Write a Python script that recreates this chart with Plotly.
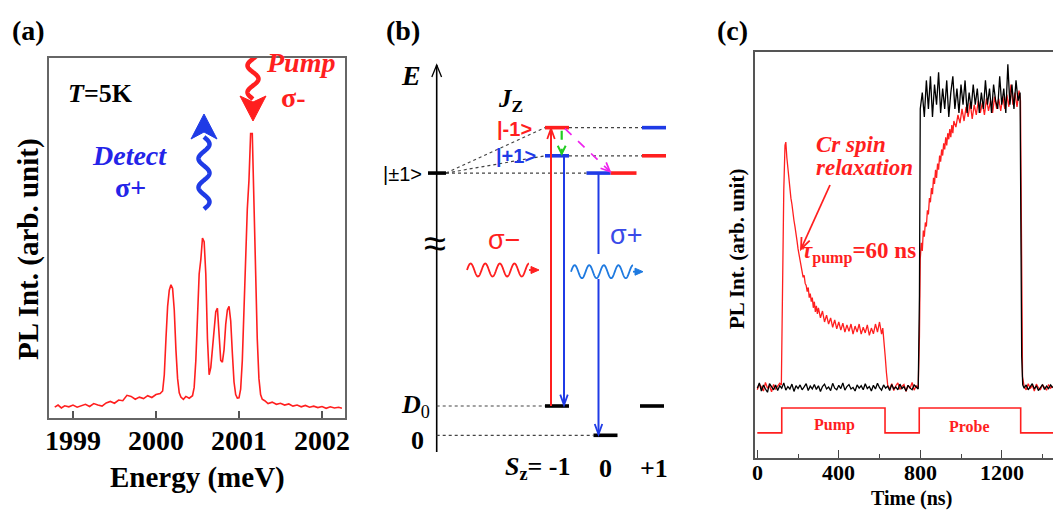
import math
import plotly.graph_objects as go

W, H = 1053, 510
SERIF = "Liberation Serif, Times New Roman, serif"
SANS = "Liberation Sans, Arial, sans-serif"
RED = "#ff1f1f"
BLUE = "#1f3be6"
TXTBLUE = "#2424e8"
LBLUE = "#1f7ae0"
GREEN = "#22cc22"
MAGENTA = "#ee22ee"
AXC = "#555555"

# ======================= (a) PL spectrum =======================
energy_meV = [
    1998.78, 1998.82, 1998.86, 1998.90, 1998.95, 1999.00, 1999.05, 1999.10, 1999.15, 1999.20,
    1999.25, 1999.30, 1999.35, 1999.40, 1999.45, 1999.50, 1999.55, 1999.60, 1999.65, 1999.70,
    1999.75, 1999.80, 1999.85, 1999.90, 1999.95, 2000.00, 2000.05, 2000.08, 2000.10, 2000.12,
    2000.14, 2000.16, 2000.18, 2000.20, 2000.22, 2000.24, 2000.26, 2000.28, 2000.30, 2000.33,
    2000.36, 2000.40, 2000.44, 2000.46, 2000.48, 2000.50, 2000.52, 2000.54, 2000.56, 2000.58,
    2000.60, 2000.62, 2000.64, 2000.66, 2000.68, 2000.70, 2000.72, 2000.74, 2000.76, 2000.78,
    2000.80, 2000.82, 2000.84, 2000.86, 2000.88, 2000.90, 2000.92, 2000.94, 2000.96, 2000.98,
    2001.00, 2001.02, 2001.04, 2001.06, 2001.08, 2001.10, 2001.12, 2001.14, 2001.16, 2001.18,
    2001.20, 2001.22, 2001.24, 2001.26, 2001.28, 2001.31, 2001.35, 2001.40, 2001.45, 2001.50,
    2001.55, 2001.60, 2001.65, 2001.70, 2001.75, 2001.80, 2001.85, 2001.90, 2001.95, 2002.00,
    2002.05, 2002.10, 2002.15, 2002.20, 2002.24]
pl_intensity = [
    0.030, 0.036, 0.028, 0.034, 0.031, 0.036, 0.030, 0.034, 0.038, 0.032,
    0.040, 0.036, 0.033, 0.042, 0.046, 0.041, 0.050, 0.048, 0.063, 0.060,
    0.052, 0.058, 0.054, 0.062, 0.057, 0.065, 0.068, 0.075, 0.12, 0.22,
    0.31, 0.355, 0.37, 0.36, 0.30, 0.19, 0.11, 0.07, 0.058, 0.052,
    0.060, 0.055, 0.062, 0.085, 0.16, 0.28, 0.40, 0.44, 0.50, 0.49,
    0.40, 0.22, 0.12, 0.14, 0.20, 0.26, 0.295, 0.305, 0.24, 0.16,
    0.155, 0.19, 0.26, 0.30, 0.31, 0.27, 0.18, 0.10, 0.065, 0.055,
    0.056, 0.08, 0.16, 0.30, 0.45, 0.58, 0.66, 0.79, 0.79, 0.60,
    0.40, 0.22, 0.11, 0.065, 0.052, 0.048, 0.040, 0.044, 0.038, 0.041,
    0.036, 0.039, 0.033, 0.036, 0.031, 0.035, 0.030, 0.033, 0.029, 0.032,
    0.027, 0.031, 0.028, 0.030, 0.027]
energy_ticks = [1999, 2000, 2001, 2002]

# ======================= (b) level scheme =======================
exc_sz = [-1, -1, 0, 0, 1, 1]            # S_z column of exciton-Cr levels
exc_E = [10.50, 9.54, 8.95, 8.95, 10.50, 9.54]
exc_Jz = [-1, 1, 1, -1, 1, -1]           # J_z = -1 red, +1 blue
gnd_sz = [-1, 0, 1]
gnd_E = [1.0, 0.0, 1.0]                  # D0, 0, D0
zero_field_E = 8.95                      # |+-1> without Cr
sz_ticks = ["-1", "0", "+1"]

# ======================= (c) time traces =======================
time_black = [
    0, 10, 20, 30, 40, 50, 60, 70, 80, 90,
    100, 110, 120, 130, 140, 150, 160, 170, 180, 190,
    200, 210, 220, 230, 240, 250, 260, 270, 280, 290,
    300, 310, 320, 330, 340, 350, 360, 370, 380, 390,
    400, 410, 420, 430, 440, 450, 460, 470, 480, 490,
    500, 510, 520, 530, 540, 550, 560, 570, 580, 590,
    600, 610, 620, 630, 640, 650, 660, 670, 680, 690,
    700, 710, 720, 730, 740, 750, 760, 770, 780, 790,
    796, 800,
    810, 820, 830, 840, 850, 860, 870, 880, 890, 900,
    910, 920, 930, 940, 950, 960, 970, 980, 990, 1000,
    1010, 1020, 1030, 1040, 1050, 1060, 1070, 1080, 1090, 1100,
    1110, 1120, 1130, 1140, 1150, 1160, 1170, 1180, 1190, 1200,
    1210, 1220, 1230, 1240, 1250, 1260, 1270, 1280, 1290,
    1294, 1298, 1303,
    1310, 1320, 1330, 1340, 1350, 1360, 1370, 1380, 1390, 1400,
    1410, 1420, 1430, 1440, 1450]
pl_black = [
    0.172, 0.185, 0.165, 0.180, 0.170, 0.162, 0.183, 0.175, 0.168, 0.180,
    0.166, 0.178, 0.172, 0.185, 0.167, 0.176, 0.170, 0.182, 0.164, 0.178,
    0.171, 0.180, 0.168, 0.175, 0.183, 0.166, 0.177, 0.170, 0.181, 0.169,
    0.178, 0.164, 0.176, 0.182, 0.170, 0.175, 0.166, 0.184, 0.172, 0.168,
    0.179, 0.171, 0.185, 0.167, 0.176, 0.181, 0.170, 0.174, 0.165, 0.180,
    0.172, 0.178, 0.168, 0.183, 0.171, 0.176, 0.165, 0.179, 0.170, 0.184,
    0.173, 0.167, 0.180, 0.172, 0.177, 0.166, 0.181, 0.170, 0.175, 0.168,
    0.182, 0.171, 0.176, 0.165, 0.179, 0.172, 0.168, 0.180, 0.174, 0.170,
    0.40, 0.86,
    0.90, 0.84, 0.93, 0.86, 0.94, 0.84, 0.92, 0.87, 0.95, 0.85,
    0.91, 0.86, 0.93, 0.84, 0.90, 0.94, 0.86, 0.91, 0.85, 0.92,
    0.87, 0.93, 0.85, 0.90, 0.86, 0.92, 0.87, 0.91, 0.85, 0.90,
    0.86, 0.93, 0.87, 0.91, 0.85, 0.92, 0.88, 0.86, 0.94, 0.87,
    0.91, 0.85, 0.97, 0.87, 0.92, 0.86, 0.93, 0.88, 0.90,
    0.60, 0.25, 0.18,
    0.172, 0.180, 0.168, 0.176, 0.183, 0.170, 0.178, 0.166, 0.175, 0.181,
    0.169, 0.177, 0.171, 0.180, 0.173]
time_red = [
    0, 10, 20, 30, 40, 50, 60, 70, 80, 90,
    100, 110, 118, 124, 130, 136, 140, 145, 150, 155,
    160, 165, 170, 175, 180, 185, 190, 195, 200, 205,
    210, 215, 220, 225, 230, 235, 240, 245, 250, 255,
    260, 265, 270, 275, 280, 285, 290, 295, 300, 310,
    320, 330, 340, 350, 360, 370, 380, 390, 400, 410,
    420, 430, 440, 450, 460, 470, 480, 490, 500, 510,
    520, 530, 540, 550, 560, 570, 580, 590, 600, 610,
    616, 622, 628, 634, 640, 650, 660, 670, 680, 690,
    700, 710, 720, 730, 740, 750, 760, 770, 780, 790,
    796, 800, 805, 810, 815, 820, 825, 830, 835, 840,
    845, 850, 855, 860, 865, 870, 875, 880, 885, 890,
    895, 900, 905, 910, 915, 920, 925, 930, 935, 940,
    945, 950, 955, 960, 965, 975, 985, 995, 1005, 1015,
    1025, 1035, 1045, 1055, 1065, 1075, 1085, 1095, 1105, 1115,
    1125, 1135, 1145, 1155, 1165, 1175, 1185, 1195, 1205, 1215,
    1225, 1235, 1245, 1255, 1265, 1275, 1285, 1292, 1297, 1302,
    1310, 1320, 1330, 1340, 1350, 1360, 1370, 1380, 1390, 1400,
    1410, 1420, 1430, 1440, 1450]
pl_red = [
    0.168, 0.182, 0.175, 0.165, 0.186, 0.172, 0.178, 0.163, 0.181, 0.170,
    0.177, 0.184, 0.180, 0.45, 0.66, 0.77, 0.778, 0.74, 0.71, 0.69,
    0.665, 0.64, 0.625, 0.60, 0.585, 0.57, 0.545, 0.535, 0.515, 0.50,
    0.49, 0.47, 0.465, 0.445, 0.45, 0.43, 0.425, 0.41, 0.42, 0.395,
    0.405, 0.385, 0.395, 0.37, 0.385, 0.36, 0.375, 0.355, 0.37, 0.345,
    0.362, 0.335, 0.352, 0.33, 0.345, 0.322, 0.34, 0.318, 0.335, 0.315,
    0.332, 0.31, 0.328, 0.312, 0.33, 0.305, 0.325, 0.31, 0.33, 0.305,
    0.322, 0.308, 0.328, 0.302, 0.32, 0.306, 0.33, 0.31, 0.335, 0.305,
    0.32, 0.29, 0.25, 0.21, 0.18, 0.17, 0.183, 0.166, 0.178, 0.185,
    0.169, 0.176, 0.181, 0.164, 0.179, 0.172, 0.186, 0.167, 0.178, 0.174,
    0.30, 0.49, 0.53, 0.51, 0.56, 0.545, 0.58, 0.57, 0.61, 0.60,
    0.64, 0.63, 0.665, 0.65, 0.69, 0.675, 0.71, 0.69, 0.725, 0.71,
    0.745, 0.73, 0.76, 0.745, 0.775, 0.76, 0.79, 0.77, 0.80, 0.785,
    0.81, 0.79, 0.82, 0.80, 0.83, 0.815, 0.845, 0.825, 0.86, 0.83,
    0.865, 0.84, 0.875, 0.835, 0.87, 0.845, 0.88, 0.85, 0.875, 0.845,
    0.885, 0.855, 0.88, 0.85, 0.89, 0.86, 0.885, 0.855, 0.89, 0.86,
    0.895, 0.865, 0.92, 0.87, 0.90, 0.865, 0.905, 0.88, 0.45, 0.20,
    0.176, 0.168, 0.183, 0.171, 0.179, 0.165, 0.182, 0.173, 0.169, 0.180,
    0.174, 0.167, 0.181, 0.172, 0.177]
pulse_time = [0, 120, 627, 795, 1293, 1460]
pulse_level = [0.062, 0.123, 0.062, 0.123, 0.062, 0.062]
time_ticks = [0, 400, 800, 1200]
time_minor = [200, 600, 1000, 1400]

# ======================= pixel <-> data helpers =======================
def a_x(px): return 1999 + (px - 73) / 83.0
def a_y(py): return (418 - py) / 360.0

SZ_PX0, SZ_STEP = 557.0, 48.5
E_PY0, E_STEP = 435.3, 29.3
def b_x(px): return -1 + (px - SZ_PX0) / SZ_STEP
def b_y(py): return (E_PY0 - py) / E_STEP
def b_px(sz): return SZ_PX0 + (sz + 1) * SZ_STEP
def b_py(e): return E_PY0 - E_STEP * e

def c_x(px): return (px - 757.3) / 0.2037
def c_y(py): return (458 - py) / 406.0

CONV = {"a": (a_x, a_y, "x", "y"), "b": (b_x, b_y, "x2", "y2"), "c": (c_x, c_y, "x3", "y3")}

shapes = []

def add_path(panel, pts, color, width, dash="solid", fill=None):
    cx, cy, xr, yr = CONV[panel]
    p = "M " + " L ".join(f"{cx(x):.5f},{cy(y):.5f}" for x, y in pts)
    if fill:
        p += " Z"
    shapes.append(dict(type="path", path=p, xref=xr, yref=yr,
                       line=dict(color=color, width=width, dash=dash),
                       fillcolor=fill if fill else "rgba(0,0,0,0)"))

def wave_pts(x0, y0, x1, y1, amp, period, n=240):
    L = math.hypot(x1 - x0, y1 - y0)
    ux, uy = (x1 - x0) / L, (y1 - y0) / L
    nx, ny = -uy, ux
    pts = []
    for i in range(n + 1):
        s = L * i / n
        off = amp * math.sin(2 * math.pi * s / period)
        pts.append((x0 + ux * s + nx * off, y0 + uy * s + ny * off))
    return pts

def vhead(tip, frm, length=10, ang=24):
    dx, dy = tip[0] - frm[0], tip[1] - frm[1]
    L = math.hypot(dx, dy)
    bx, by = -dx / L, -dy / L
    out = []
    for a in (math.radians(ang), -math.radians(ang)):
        out.append((tip[0] + length * (bx * math.cos(a) - by * math.sin(a)),
                    tip[1] + length * (bx * math.sin(a) + by * math.cos(a))))
    return [out[0], tip, out[1]]

fig = go.Figure()

# ---------------- panel (a) ----------------
fig.add_trace(go.Scatter(x=energy_meV, y=pl_intensity, mode="lines",
                         line=dict(color=RED, width=1.6), xaxis="x", yaxis="y",
                         hoverinfo="skip"))
add_path("a", wave_pts(204, 209, 204, 137, 5.5, 28.8), BLUE, 4.5)
add_path("a", [(204, 114), (191, 139), (204, 132), (217, 139)], BLUE, 1, fill=BLUE)
add_path("a", wave_pts(253, 32, 253, 99, 5.5, 26.8), RED, 4.5)
add_path("a", [(253, 121), (240, 96), (253, 102), (266, 96)], RED, 1, fill=RED)

# ---------------- panel (b) ----------------
AXIS_PX = 436.7
add_path("b", [(AXIS_PX, 452), (AXIS_PX, 65)], "black", 1.6)
add_path("b", vhead((AXIS_PX, 65), (AXIS_PX, 100), 13, 22), "black", 1.3)

def dotted(p0, p1):
    add_path("b", [p0, p1], "#444444", 1.2, dash="dot")

HW = 12.0
dotted((AXIS_PX, b_py(gnd_E[0])), (b_px(-1) - HW, b_py(gnd_E[0])))
dotted((AXIS_PX, b_py(gnd_E[1])), (b_px(0) - HW, b_py(gnd_E[1])))
dotted((b_px(-1) + HW, b_py(exc_E[0])), (b_px(1) - HW, b_py(exc_E[4])))
dotted((b_px(-1) + HW, b_py(exc_E[1])), (b_px(1) - HW, b_py(exc_E[5])))
dotted((446, b_py(zero_field_E)), (b_px(-1) - HW, b_py(exc_E[0])))
dotted((446, b_py(zero_field_E)), (b_px(-1) - HW, b_py(exc_E[1])))
dotted((446, b_py(zero_field_E)), (b_px(0) - 19, b_py(exc_E[2])))

lv = {"red": ([], []), "blue": ([], []), "black": ([], [])}
for sz, e, jz in zip(exc_sz, exc_E, exc_Jz):
    c = b_px(sz)
    if sz == 0:
        lo, hi = (c - 19, c + 5) if jz == 1 else (c + 5, c + 31)
    else:
        lo, hi = c - HW, c + HW
    key = "blue" if jz == 1 else "red"
    lv[key][0].extend([b_x(lo), b_x(hi), None])
    lv[key][1].extend([e, e, None])
for sz, e in zip(gnd_sz, gnd_E):
    c = b_px(sz) - (2 if sz == 1 else 0)
    lv["black"][0].extend([b_x(c - HW), b_x(c + HW), None])
    lv["black"][1].extend([e, e, None])
lv["black"][0].extend([b_x(428), b_x(446), None])
lv["black"][1].extend([zero_field_E, zero_field_E, None])
for key, col in (("red", RED), ("blue", BLUE), ("black", "black")):
    fig.add_trace(go.Scatter(x=lv[key][0], y=lv[key][1], mode="lines",
                             line=dict(color=col, width=3.6), xaxis="x2", yaxis="y2",
                             hoverinfo="skip"))

x_abs = b_px(-1) - 6
add_path("b", [(x_abs, b_py(gnd_E[0])), (x_abs, b_py(exc_E[0]) + 1)], RED, 2)
add_path("b", vhead((x_abs, b_py(exc_E[0]) + 1), (x_abs, 300), 11, 20), RED, 1.8)
x_em1 = b_px(-1) + 7
add_path("b", [(x_em1, b_py(exc_E[1])), (x_em1, b_py(gnd_E[0]) - 1)], BLUE, 2)
add_path("b", vhead((x_em1, b_py(gnd_E[0]) - 1), (x_em1, 300), 11, 20), BLUE, 1.8)
x_em0 = b_px(0) - 7
add_path("b", [(x_em0, b_py(exc_E[2])), (x_em0, 254)], BLUE, 2)
add_path("b", [(x_em0, 279), (x_em0, b_py(gnd_E[1]) - 1)], BLUE, 2)
add_path("b", vhead((x_em0, b_py(gnd_E[1]) - 1), (x_em0, 300), 11, 20), BLUE, 1.8)
xg = b_px(-1) + 4.7
add_path("b", [(xg, b_py(exc_E[0]) + 3), (xg, b_py(exc_E[1]) - 2)], GREEN, 2.2, dash="dash")
add_path("b", vhead((xg, b_py(exc_E[1]) - 2), (xg, 100), 9, 26), GREEN, 2)
m0 = (b_px(-1) + 8, b_py(exc_E[0]) + 1)
m1 = (b_px(0) + 4.5, b_py(exc_E[2]) - 1.5)
add_path("b", [m0, m1], MAGENTA, 1.7, dash="dash")
add_path("b", vhead(m1, m0, 10, 24), MAGENTA, 1.7)
add_path("b", wave_pts(467, 270, 529, 270, -6.5, 14.6), RED, 1.8)
add_path("b", [(529, 270), (533, 270)], RED, 1.8)
add_path("b", [(539, 270), (531, 266.5), (531, 273.5)], RED, 1, fill=RED)
add_path("b", wave_pts(571, 271.7, 633, 271.7, -6.5, 14.6), LBLUE, 1.8)
add_path("b", [(633, 271.7), (637, 271.7)], LBLUE, 1.8)
add_path("b", [(643, 271.7), (635, 268.2), (635, 275.2)], LBLUE, 1, fill=LBLUE)

# ---------------- panel (c) ----------------
fig.add_trace(go.Scatter(x=time_red, y=pl_red, mode="lines",
                         line=dict(color=RED, width=1.3), xaxis="x3", yaxis="y3",
                         hoverinfo="skip"))
fig.add_trace(go.Scatter(x=time_black, y=pl_black, mode="lines",
                         line=dict(color="black", width=1.3), xaxis="x3", yaxis="y3",
                         hoverinfo="skip"))
fig.add_trace(go.Scatter(x=pulse_time, y=pulse_level, mode="lines", line_shape="hv",
                         line=dict(color=RED, width=1.6), xaxis="x3", yaxis="y3",
                         hoverinfo="skip"))
add_path("c", [(830, 185), (801, 249)], RED, 1.8)
add_path("c", vhead((801, 249), (830, 185), 12, 22), RED, 1.8)

# ---------------- text ----------------
def txt(px, py, text, size, color="black", family=SERIF, xanchor="center", angle=0):
    return dict(x=px / W, y=1 - py / H, xref="paper", yref="paper", text=text,
                showarrow=False, font=dict(family=family, size=size, color=color),
                xanchor=xanchor, yanchor="middle", textangle=angle, borderpad=0)

def tick_label(axis, value, py, size):
    return dict(x=value, y=1 - py / H, xref=axis, yref="paper", text=f"<b>{value}</b>",
                showarrow=False, font=dict(family=SERIF, size=size, color="black"),
                xanchor="center", yanchor="middle", borderpad=0)

ann = [
    txt(28, 30, "<b>(a)</b>", 28),
    txt(402.5, 30, "<b>(b)</b>", 28),
    txt(732.5, 30, "<b>(c)</b>", 28),
    # (a)
    txt(100, 93, "<b><i>T</i>=5K</b>", 26),
    txt(300, 62, "<b><i>Pump</i></b>", 28, RED),
    txt(293, 97, "<b>σ-</b>", 28, RED),
    txt(129.5, 155, "<b><i>Detect</i></b>", 28, TXTBLUE),
    txt(130, 187, "<b>σ+</b>", 28, TXTBLUE),
    txt(197, 477, "<b>Energy (meV)</b>", 29),
    txt(28, 249, "<b>PL Int. (arb. unit)</b>", 29, angle=-90),
    # (b)
    txt(411, 75, "<b><i>E</i></b>", 28),
    txt(510, 101, "<b><i>J</i><sub>Z</sub></b>", 25),
    txt(402.5, 174, "|±1&gt;", 20, family=SANS),
    txt(514, 129, "<b>|-1&gt;</b>", 20, RED, family=SANS),
    txt(516, 156, "<b>|+1&gt;</b>", 20, BLUE, family=SANS),
    txt(504, 240, "σ−", 27, RED, family=SANS),
    txt(626, 235, "σ+", 27, "#3a4ae8", family=SANS),
    txt(435, 243, "≈", 40, family=SANS),
    txt(415, 406, "<b><i>D</i></b><sub>0</sub>", 26),
    txt(417.5, 440, "<b>0</b>", 26),
    txt(538, 468, "<b><i>S</i><sub>z</sub>= " + sz_ticks[0] + "</b>", 26),
    txt(605, 468, "<b>" + sz_ticks[1] + "</b>", 26),
    txt(654, 468, "<b>" + sz_ticks[2] + "</b>", 26),
    # (c)
    txt(815, 144, "<b><i>Cr spin</i></b>", 23, RED, xanchor="left"),
    txt(815, 168, "<b><i>relaxation</i></b>", 23, RED, xanchor="left"),
    txt(801, 252, "<b><i>τ</i><sub>pump</sub>=60 ns</b>", 23, RED, xanchor="left"),
    txt(834, 425, "<b>Pump</b>", 16, RED),
    txt(969, 426.5, "<b>Probe</b>", 16, RED),
    txt(737, 249, "<b>PL Int. (arb. unit)</b>", 21, angle=-90),
    txt(911, 498, "<b>Time (ns)</b>", 20),
]
ann += [tick_label("x", v, 440, 28) for v in energy_ticks]
ann += [tick_label("x3", v, 472, 22) for v in time_ticks]

fig.update_layout(
    width=W, height=H, margin=dict(l=0, r=0, t=0, b=0),
    paper_bgcolor="white", plot_bgcolor="white", showlegend=False,
    xaxis=dict(domain=[49 / W, 345 / W], range=[a_x(49), a_x(345)], anchor="y",
               tickmode="array", tickvals=energy_ticks, showticklabels=False,
               ticks="inside", ticklen=7, tickwidth=1.5, tickcolor=AXC,
               showline=True, linecolor="#666666", linewidth=1.6, mirror=True,
               showgrid=False, zeroline=False),
    yaxis=dict(domain=[1 - 418 / H, 1 - 58 / H], range=[0, 1], anchor="x",
               showticklabels=False, ticks="", showline=True, linecolor="#666666",
               linewidth=1.6, mirror=True, showgrid=False, zeroline=False),
    xaxis2=dict(domain=[380 / W, 700 / W], range=[b_x(380), b_x(700)], anchor="y2",
                visible=False, showgrid=False, zeroline=False),
    yaxis2=dict(domain=[0, 1], range=[b_y(510), b_y(0)], anchor="x2",
                visible=False, showgrid=False, zeroline=False),
    xaxis3=dict(domain=[755 / W, 1], range=[c_x(755), c_x(1053)], anchor="y3",
                tickmode="array", tickvals=time_ticks, showticklabels=False,
                ticks="inside", ticklen=8, tickwidth=1.4, tickcolor="#444444",
                minor=dict(tickvals=time_minor, ticks="inside", ticklen=4,
                           tickwidth=1.2, tickcolor="#444444"),
                showline=True, linecolor="#555555", linewidth=1.6, mirror=True,
                showgrid=False, zeroline=False),
    yaxis3=dict(domain=[1 - 458 / H, 1 - 52 / H], range=[0, 1], anchor="x3",
                showticklabels=False, ticks="", showline=True, linecolor="#555555",
                linewidth=1.6, mirror=False, showgrid=False, zeroline=False),
    shapes=shapes,
    annotations=ann,
)

fig.write_html("out.html", config={"displayModeBar": False},
               post_script="document.body.style.margin='0';document.body.style.overflow='hidden';")
